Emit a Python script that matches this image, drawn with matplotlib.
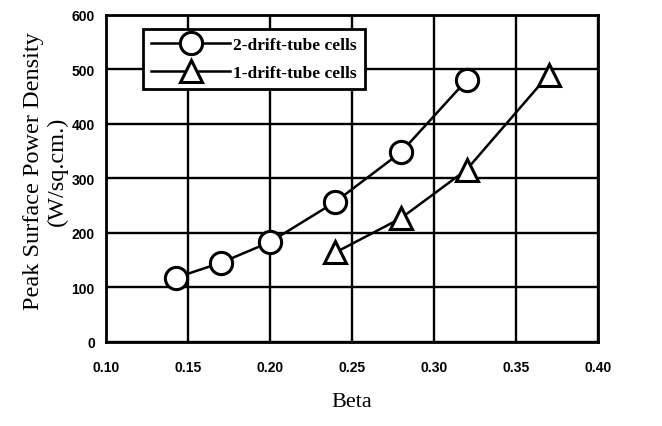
import matplotlib
matplotlib.use("Agg")
import matplotlib.pyplot as plt

beta_two = [0.143, 0.17, 0.20, 0.24, 0.28, 0.32]
power_two = [118, 145, 183, 257, 348, 480]
beta_one = [0.24, 0.28, 0.32, 0.37]
power_one = [164, 227, 316, 490]

x_ticks = [0.10, 0.15, 0.20, 0.25, 0.30, 0.35, 0.40]
y_ticks = [0, 100, 200, 300, 400, 500, 600]

serif = "Liberation Serif"
sans = "Liberation Sans"

fig = plt.figure(figsize=(6.62, 4.27), dpi=100)
ax = fig.add_axes([0.160, 0.197, 0.743, 0.766])

ax.plot(beta_two, power_two, color="black", lw=1.8, marker="o", ms=16,
        mfc="white", mec="black", mew=2.2, label="2-drift-tube cells", zorder=3)
ax.plot(beta_one, power_one, color="black", lw=1.8, marker="^", ms=16,
        mfc="white", mec="black", mew=2.2, label="1-drift-tube cells", zorder=3)

ax.set_xlim(0.10, 0.40)
ax.set_ylim(0, 600)
ax.set_xticks(x_ticks)
ax.set_yticks(y_ticks)
ax.set_xticklabels([f"{v:.2f}" for v in x_ticks], fontfamily=sans, fontweight="bold", fontsize=10)
ax.set_yticklabels([str(v) for v in y_ticks], fontfamily=sans, fontweight="bold", fontsize=10)
ax.tick_params(length=0, pad=13)
ax.tick_params(axis="y", pad=8)
ax.grid(True, color="black", lw=1.7)
ax.set_axisbelow(True)
for s in ax.spines.values():
    s.set_linewidth(2.0)

ax.set_xlabel("Beta", fontfamily=serif, fontsize=16, labelpad=13)
ax.set_ylabel("Peak Surface Power Density\n(W/sq.cm.)", fontfamily=serif, fontsize=17.5,
              linespacing=1.15)
ax.yaxis.set_label_coords(-0.077, 0.525)

leg = ax.legend(loc="upper left", bbox_to_anchor=(0.075, 0.957), frameon=True, fancybox=False,
                edgecolor="black", framealpha=1, handlelength=4.6, handletextpad=0.15,
                borderpad=0.45, labelspacing=0.7, borderaxespad=0,
                prop={"family": serif, "weight": "bold", "size": 12.5})
leg.get_frame().set_linewidth(2.0)

fig.savefig("out.png", dpi=100)
